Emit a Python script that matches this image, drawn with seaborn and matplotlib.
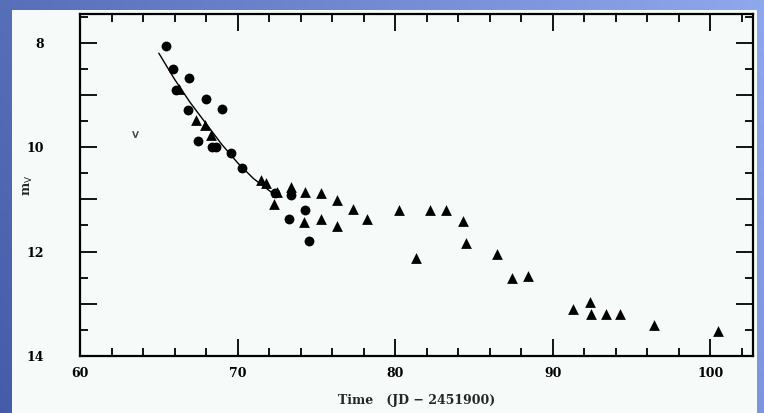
import numpy as np
import matplotlib
matplotlib.use("Agg")
import matplotlib.pyplot as plt
from matplotlib.patches import Rectangle
from matplotlib.ticker import MultipleLocator, FuncFormatter
import seaborn as sns
import pandas as pd

# V-band light curve: filled circles and filled triangles from two data sets
circ_x = [65.46, 65.89, 66.94, 66.10, 67.99, 69.00, 66.84, 67.47, 68.40, 68.60,
          69.58, 70.27, 72.40, 73.40, 73.27, 74.30, 74.50]
circ_y = [8.07, 8.50, 8.67, 8.91, 9.08, 9.27, 9.28, 9.89, 9.99, 10.00,
          10.12, 10.40, 10.88, 10.92, 11.38, 11.21, 11.80]

tri_x = [66.27, 67.36, 67.90, 68.30, 71.50, 71.80, 72.50, 72.30, 73.40, 74.30,
         75.27, 76.30, 77.30, 78.20, 74.20, 75.27, 76.30, 80.27, 82.20, 83.20,
         84.30, 84.50, 81.30, 86.46, 87.40, 88.40, 91.27, 92.36, 92.40, 93.37,
         94.26, 96.40, 100.50]
tri_y = [8.88, 9.48, 9.57, 9.76, 10.63, 10.69, 10.85, 11.08, 10.76, 10.85,
         10.88, 11.01, 11.19, 11.38, 11.43, 11.38, 11.51, 11.21, 11.21, 11.21,
         11.41, 11.83, 12.12, 12.04, 12.50, 12.46, 13.10, 12.97, 13.19, 13.19,
         13.19, 13.40, 13.53]

# pre-discovery upper limit
lim_x = [63.46]
lim_y = [9.75]

# early decline fit
fit_x = [65.0, 66.0, 67.0, 68.0, 69.0, 70.0, 71.0, 72.3]
fit_y = [8.20, 8.70, 9.15, 9.55, 9.95, 10.30, 10.60, 10.90]

sns.set_style("ticks")
plt.rcParams["font.family"] = ["DejaVu Serif"]

W, H = 764, 413
fig = plt.figure(figsize=(W / 100, H / 100), dpi=100)

# blue slide background with a soft diagonal gradient
bg = fig.add_axes([0, 0, 1, 1], zorder=0)
gx, gy = np.meshgrid(np.linspace(0, 1, 200), np.linspace(0, 1, 120))
t = np.clip(0.75 * gx + 0.25 * gy, 0, 1)
dark = np.array([0.27, 0.36, 0.66])
light = np.array([0.56, 0.66, 0.93])
img = dark[None, None, :] * (1 - t[..., None]) + light[None, None, :] * t[..., None]
bg.imshow(img, extent=[0, 1, 0, 1], origin="lower", aspect="auto")
bg.set_axis_off()
bg.add_patch(Rectangle((12 / W, 0), (757 - 12) / W, (H - 10) / H,
                       transform=bg.transAxes, facecolor="#f6faf8",
                       edgecolor="none"))

ax = fig.add_axes([80 / W, (H - 356) / H, (753 - 80) / W, (356 - 14) / H], zorder=2)
ax.set_facecolor("none")

df_c = pd.DataFrame({"t": circ_x, "m": circ_y})
df_t = pd.DataFrame({"t": tri_x, "m": tri_y})
df_f = pd.DataFrame({"t": fit_x, "m": fit_y})

sns.lineplot(data=df_f, x="t", y="m", ax=ax, color="black", lw=1.0,
             sort=True, estimator=None)
sns.scatterplot(data=df_c, x="t", y="m", ax=ax, marker="o", s=50,
                color="black", edgecolor="black", linewidth=0)
sns.scatterplot(data=df_t, x="t", y="m", ax=ax, marker="^", s=60,
                color="black", edgecolor="black", linewidth=0)
ax.scatter(lim_x, lim_y, marker=r"$\mathrm{v}$", s=22, color="#333333",
           linewidths=0.2)

ax.set_xlim(60, 102.7)
ax.set_ylim(14, 7.45)

ax.xaxis.set_major_locator(MultipleLocator(10))
ax.xaxis.set_minor_locator(MultipleLocator(2))
ax.yaxis.set_major_locator(MultipleLocator(1))
ax.yaxis.set_minor_locator(MultipleLocator(0.5))
ax.yaxis.set_major_formatter(
    FuncFormatter(lambda v, p: f"{int(round(v))}" if int(round(v)) % 2 == 0 else ""))

ax.tick_params(which="both", direction="in", top=True, right=True,
               colors="black", labelsize=9)
ax.tick_params(which="major", length=12, width=1.3)
ax.tick_params(which="minor", length=6, width=1.3)
ax.tick_params(axis="x", which="major", pad=8)
ax.tick_params(axis="y", which="major", pad=26)
for lab in ax.get_xticklabels() + ax.get_yticklabels():
    lab.set_fontweight("bold")

for sp in ax.spines.values():
    sp.set_visible(True)
    sp.set_linewidth(1.6)
    sp.set_color("black")

ax.set_xlabel("Time   (JD \u2212 2451900)", fontsize=9, fontweight="bold", labelpad=10)
ax.set_ylabel(r"m$_{\rm V}$", fontsize=9, fontweight="bold")
ax.yaxis.set_label_coords(-0.067, 0.5)

fig.savefig("out.png", dpi=100)
